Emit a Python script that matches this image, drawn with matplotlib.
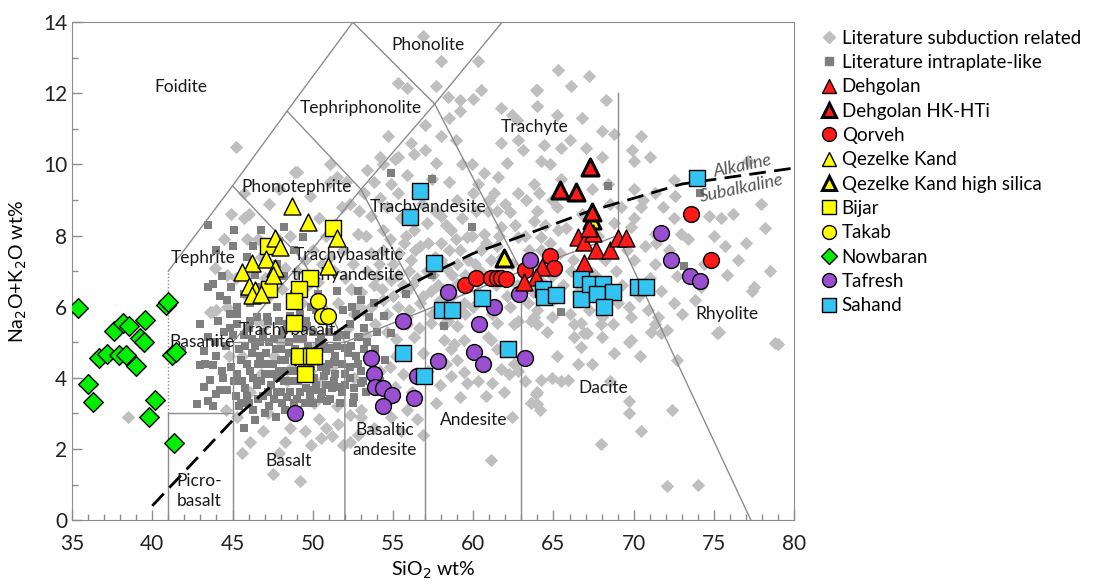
import matplotlib

matplotlib.use("Agg")
import matplotlib.pyplot as plt  # noqa: E402
import numpy as np  # noqa: E402
from matplotlib.lines import Line2D  # noqa: E402
from matplotlib.ticker import MultipleLocator  # noqa: E402

plt.rcParams["font.family"] = ["Lato", "DejaVu Sans"]

# ---- literature data (SiO2, Na2O+K2O) ----
lit_sub = [
    (56.9, 13.6), (58.0, 12.9), (60.3, 12.9), (65.3, 12.65), (67.2, 12.5), (66.1, 12.2),
    (63.9, 12.1), (57.7, 12.2), (58.4, 11.9), (59.2, 11.8), (60.0, 11.85), (60.5, 12.1),
    (59.2, 11.5), (61.7, 11.6), (62.4, 11.4), (62.7, 11.25), (64.0, 11.65), (68.3, 11.8),
    (68.0, 10.95), (68.8, 10.85), (70.45, 10.8), (69.9, 10.4), (71.0, 10.2), (70.0, 10.1),
    (58.0, 10.8), (58.9, 10.7), (56.1, 10.6), (61.7, 10.6), (64.4, 10.55), (65.5, 10.45),
    (67.0, 10.45), (68.0, 10.2), (64.2, 10.1), (64.8, 10.0), (60.7, 9.75), (62.1, 10.05),
    (55.3, 12.3), (55.9, 12.15), (64.0, 12.1), (54.7, 10.8), (45.2, 10.5), (54.2, 10.2),
    (55.1, 10.15), (57.7, 10.05), (59.95, 10.0), (62.8, 10.7), (51.1, 10.0), (49.0, 9.8),
    (59.3, 10.0), (77.1, 10.1), (72.5, 9.55), (71.3, 9.2), (70.0, 9.3), (69.2, 8.8),
    (70.45, 8.8), (74.7, 8.55), (75.45, 8.5), (77.95, 8.9), (78.2, 8.2), (75.7, 7.7),
    (76.5, 7.3), (77.5, 6.55), (75.2, 5.25), (78.8, 4.97), (60.3, 9.45), (61.3, 9.2),
    (59.0, 9.0), (58.0, 8.55), (60.9, 8.7), (62.3, 8.65), (63.8, 8.4), (64.0, 8.7),
    (64.9, 9.0), (63.8, 9.45), (61.55, 9.65), (68.4, 9.45), (68.8, 8.35), (69.8, 8.25),
    (71.3, 8.05), (72.5, 8.5), (72.95, 8.05), (70.7, 7.7), (71.3, 7.2), (70.0, 7.3),
    (72.7, 6.85), (71.7, 6.45), (72.5, 6.1), (74.2, 6.55), (77.4, 6.45), (71.5, 5.7),
    (72.1, 5.35), (69.8, 5.7), (69.0, 6.1), (68.0, 5.7), (66.7, 5.55), (64.9, 5.7),
    (64.0, 5.5), (66.3, 5.15), (66.9, 5.25), (68.0, 5.15), (69.8, 5.05), (68.8, 4.7),
    (66.7, 4.87), (66.5, 4.4), (64.9, 4.0), (64.25, 3.95), (63.9, 3.55), (63.6, 3.3),
    (64.15, 3.1), (56.3, 8.15), (57.1, 8.35), (58.6, 8.15), (59.6, 7.95), (60.7, 8.05),
    (61.7, 8.25), (62.8, 7.95), (64.2, 7.95), (65.3, 8.15), (56.7, 7.7), (58.0, 7.8),
    (59.2, 7.6), (60.5, 7.6), (61.5, 7.7), (64.2, 7.6), (56.1, 7.3), (59.0, 7.2),
    (60.1, 7.2), (61.1, 7.3), (64.7, 7.3), (64.9, 6.85), (59.0, 6.65), (57.35, 6.45),
    (56.7, 6.1), (59.4, 6.1), (62.3, 6.0), (63.4, 6.1), (64.0, 5.9), (55.9, 5.7),
    (57.35, 5.55), (59.0, 5.45), (61.5, 5.55), (62.55, 5.5), (63.6, 5.6), (58.8, 4.95),
    (61.1, 5.05), (61.5, 4.8), (62.55, 4.4), (58.6, 4.05), (59.6, 3.85), (61.2, 3.85),
    (59.2, 3.45), (57.65, 3.3), (59.0, 4.5), (59.4, 4.15), (61.7, 4.25), (62.2, 4.1),
    (61.1, 1.7), (64.0, 3.6), (64.0, 3.25), (65.45, 3.9), (65.9, 3.95), (67.95, 2.15),
    (69.7, 3.35), (69.7, 3.0), (70.45, 2.5), (69.7, 5.0), (72.1, 0.96), (72.7, 4.5),
    (75.3, 5.3), (79.0, 4.95), (67.1, 5.25), (67.95, 5.5), (71.1, 5.3), (71.7, 5.25),
    (71.3, 5.5), (70.9, 5.9), (69.7, 6.0), (66.3, 5.5), (63.8, 5.7), (58.4, 5.6),
    (59.5, 5.8), (58.6, 4.8), (62.8, 4.2), (51.9, 2.1), (51.2, 2.35), (52.35, 2.2),
    (56.9, 2.4), (56.5, 2.85), (54.85, 2.9), (53.0, 2.9), (52.35, 2.95), (51.5, 3.2),
    (50.1, 3.3), (50.4, 2.85), (50.8, 2.6), (49.2, 1.1), (58.2, 5.05), (56.3, 5.15),
    (56.9, 4.7), (58.2, 5.5), (55.9, 5.5), (59.4, 5.05), (60.9, 5.15), (55.1, 3.75),
    (55.9, 3.1), (53.0, 3.1), (48.9, 9.8), (51.1, 9.5), (43.6, 5.85), (53.2, 9.2),
    (54.2, 9.05), (54.85, 9.45), (51.5, 9.65), (52.35, 8.9), (53.6, 8.55), (54.4, 8.15),
    (52.8, 8.05), (51.9, 7.6), (51.1, 7.4), (53.6, 7.5), (54.4, 7.6), (54.0, 6.85),
    (54.85, 6.75), (52.8, 6.0), (45.7, 9.2), (45.7, 8.5), (44.65, 6.0), (44.0, 5.9),
    (54.4, 6.2), (55.3, 6.0), (55.7, 7.8), (55.5, 8.5), (53.4, 9.85), (54.4, 10.0),
    (55.3, 10.2), (46.5, 5.6), (47.3, 6.3), (48.0, 5.0), (48.7, 4.3), (49.5, 5.4),
    (50.2, 4.9), (50.9, 5.6), (51.6, 6.1), (52.4, 6.5), (53.1, 5.9), (53.8, 6.6),
    (54.6, 5.3), (55.2, 4.6), (55.8, 6.4), (56.5, 6.8), (57.5, 6.9), (58.3, 7.1),
    (57.9, 6.2), (53.5, 4.6), (54.2, 4.2), (52.6, 4.0), (51.2, 4.3), (50.5, 3.9),
    (49.8, 4.2), (48.4, 3.9), (47.6, 4.6), (46.8, 4.1), (46.1, 3.6), (45.6, 4.6),
    (45.3, 2.9), (46.9, 2.5), (48.3, 2.2), (47.5, 1.3), (49.9, 2.1), (44.6, 3.1),
    (43.9, 7.1), (44.5, 7.9), (46.0, 8.6), (47.3, 8.9), (47.9, 9.3), (49.8, 9.1),
    (50.4, 8.5), (49.5, 7.3), (48.3, 7.1), (46.8, 7.4), (45.9, 6.3), (47.1, 5.5),
    (48.9, 5.6), (50.3, 6.7), (51.3, 7.0), (52.5, 7.2), (53.3, 8.0), (55.0, 7.2),
    (56.0, 7.0), (56.8, 8.9), (57.4, 9.6), (58.5, 9.5), (60.0, 9.2), (61.5, 8.7),
    (62.8, 9.2), (63.1, 10.4), (65.5, 9.6), (66.0, 10.7), (66.8, 11.3), (65.2, 11.4),
    (58.5, 11.3), (57.0, 11.1), (44.9, 8.6), (45.9, 7.9), (38.5, 2.9), (44.65, 6.9),
    (43.7, 5.85), (74.0, 1.0), (72.4, 3.1), (67.4, 6.95), (66.2, 7.3), (62.7, 6.6),
    (60.3, 6.4), (58.7, 6.9), (57.6, 7.4), (55.3, 6.9), (53.4, 7.0), (52.0, 6.8),
    # dense band
    (52.2, 5.4), (52.6, 5.8), (53.0, 6.4), (53.3, 5.2), (53.6, 6.0), (53.9, 5.5),
    (54.1, 7.2), (54.3, 6.5), (54.6, 5.8), (54.8, 7.9), (55.0, 6.3), (55.2, 5.1),
    (55.4, 7.5), (55.6, 6.6), (55.8, 8.0), (56.0, 5.9), (56.2, 6.6), (56.4, 7.6),
    (56.6, 5.4), (56.9, 6.3), (57.1, 7.0), (57.2, 7.8), (57.4, 5.8), (57.6, 8.7),
    (57.8, 6.6), (58.0, 7.3), (58.1, 6.0), (58.3, 8.3), (58.5, 7.6), (58.7, 6.3),
    (58.9, 7.9), (59.1, 5.9), (59.3, 8.5), (59.5, 6.9), (59.7, 7.3), (59.9, 8.0),
    (60.0, 6.0), (60.2, 8.7), (60.4, 7.0), (60.6, 6.3), (60.8, 7.8), (61.0, 9.0),
    (61.2, 5.8), (61.4, 6.6), (61.6, 8.0), (61.8, 7.4), (62.0, 8.9), (62.1, 6.3),
    (62.4, 7.2), (62.6, 8.3), (62.8, 5.6), (63.0, 6.6), (63.2, 8.0), (63.3, 9.0),
    (63.5, 7.6), (63.7, 6.4), (63.9, 7.2), (64.1, 9.2), (64.3, 6.7), (64.5, 8.3),
    (64.6, 5.3), (64.8, 7.8), (65.0, 6.2), (65.2, 8.8), (65.4, 7.5), (65.6, 6.6),
    (65.8, 8.2), (66.0, 5.8), (66.1, 7.0), (66.3, 9.1), (66.5, 6.4), (66.8, 8.6),
    (67.0, 7.1), (67.2, 5.9), (67.4, 9.3), (67.6, 6.9), (67.8, 8.0), (68.0, 6.3),
    (68.2, 7.3), (68.5, 8.9), (68.7, 5.5), (68.9, 7.0), (69.3, 6.6), (69.6, 7.6),
    (70.0, 8.5), (70.3, 6.3), (70.6, 9.0), (71.0, 6.8), (71.4, 7.8), (71.8, 8.8),
    (72.2, 7.6), (72.6, 9.1), (73.0, 5.8), (73.4, 7.9), (73.8, 6.2), (74.4, 7.2),
    (75.0, 8.0), (75.8, 6.9), (76.2, 8.6), (77.0, 7.8), (78.5, 7.0),
    (44.8, 4.6), (45.2, 6.8), (46.0, 7.0), (46.6, 7.9), (47.0, 6.8), (47.5, 7.6),
    (48.1, 6.5), (48.6, 8.0), (49.0, 7.0), (49.3, 6.1), (49.7, 6.6), (50.0, 7.6),
    (50.6, 7.2), (50.8, 8.0), (51.4, 8.3), (51.8, 8.8), (52.1, 9.5), (52.9, 8.7),
    (53.8, 9.5), (54.6, 8.8), (55.3, 9.2), (55.9, 9.7), (56.3, 10.3), (57.0, 10.4),
    (47.2, 3.0), (48.6, 2.6), (49.5, 2.5), (50.5, 2.3), (51.6, 2.7), (52.8, 2.4),
    (53.8, 2.6), (54.6, 3.3), (55.5, 2.5), (56.2, 3.6), (54.8, 4.3), (55.6, 4.1),
    (57.2, 4.2), (57.9, 3.8), (58.3, 4.4), (60.3, 3.9), (60.8, 3.5), (61.9, 3.6),
    (62.4, 2.9), (63.2, 3.9), (65.2, 4.6), (67.4, 4.4), (68.5, 3.9), (70.4, 4.6),
    (46.1, 2.2), (45.6, 1.9), (47.9, 1.9),
]

lit_intra = [
    (45.4, 3.2), (45.6, 3.9), (45.5, 4.5), (45.8, 4.9), (45.9, 3.5), (46.1, 4.2),
    (46.2, 4.7), (46.3, 3.1), (46.5, 3.8), (46.6, 4.4), (46.7, 5.0), (46.9, 3.5),
    (47.0, 4.1), (47.1, 4.7), (47.3, 3.2), (47.4, 3.8), (47.5, 4.4), (47.6, 5.1),
    (47.8, 3.6), (47.9, 4.2), (48.0, 4.8), (48.1, 3.3), (48.2, 3.9), (48.3, 4.5),
    (48.5, 5.0), (48.6, 3.6), (48.7, 4.2), (48.9, 4.8), (49.0, 3.4), (49.1, 3.9),
    (49.3, 4.4), (49.4, 5.1), (49.6, 3.7), (49.8, 4.6), (50.0, 3.3), (50.1, 4.0),
    (50.3, 4.5), (50.4, 5.0), (50.6, 3.6), (50.8, 4.2), (50.9, 4.8), (51.1, 3.4),
    (51.3, 3.9), (51.4, 4.6), (51.6, 5.2), (51.8, 3.6), (52.0, 4.1), (52.2, 4.7),
    (52.5, 3.3), (52.8, 4.4), (53.1, 3.9), (53.4, 5.0), (53.7, 4.5), (54.0, 5.3),
    (46.0, 5.4), (47.2, 5.6), (48.4, 5.5), (49.2, 5.8), (50.6, 5.6), (45.3, 5.8),
    (46.4, 2.8), (47.7, 2.9), (48.9, 2.9), (45.7, 2.6), (43.5, 8.3), (45.1, 8.15),
    (45.0, 7.7), (44.0, 7.6), (44.35, 6.85), (43.5, 6.55), (44.25, 6.3), (44.9, 6.55),
    (43.0, 5.5), (43.5, 5.15), (43.2, 4.75), (44.0, 4.6), (43.3, 4.4), (44.35, 4.2),
    (43.6, 3.95), (44.65, 3.65), (44.0, 3.55), (46.3, 7.7), (45.9, 7.4), (46.75, 8.15),
    (47.9, 7.85), (48.2, 8.25), (48.8, 7.6), (49.4, 7.95), (47.8, 7.2), (48.2, 6.85),
    (46.75, 6.55), (45.7, 6.35), (45.3, 6.0), (46.1, 6.1), (47.8, 6.0), (48.6, 5.75),
    (47.15, 5.7), (46.1, 5.6), (45.3, 5.5), (48.2, 5.35), (46.9, 5.15), (49.9, 6.0),
    (49.65, 5.45), (50.5, 5.15), (51.5, 5.15), (51.1, 4.85), (52.35, 5.5), (52.8, 5.15),
    (53.2, 4.8), (51.9, 5.9), (50.3, 6.35), (51.5, 6.45), (52.8, 6.45), (48.8, 6.35),
    (43.8, 6.65), (44.65, 6.2), (44.86, 5.8), (44.1, 5.6), (44.86, 5.4), (43.0, 4.35),
    (43.8, 4.35), (43.2, 3.75), (44.25, 3.65), (42.8, 3.25), (43.5, 3.35), (43.8, 3.2),
    (41.85, 4.75), (45.5, 3.3), (45.2, 3.5), (52.45, 6.0), (53.5, 5.7), (54.45, 5.75),
    (54.85, 5.25), (52.9, 5.15), (52.0, 4.85), (51.3, 4.45), (52.35, 4.3), (50.7, 4.05),
    (51.7, 3.75), (53.0, 3.85), (52.55, 3.45), (50.9, 3.35), (50.1, 3.65), (48.4, 3.45),
    (54.9, 9.75), (57.45, 9.6), (59.95, 8.25), (68.4, 9.4), (73.15, 7.15), (65.5, 5.85),
    (58.2, 5.45), (55.8, 6.35), (74.1, 9.2), (57.45, 6.9), (53.0, 6.2), (46.4, 6.9),
    # dense basaltic cluster
    (45.3, 4.1), (45.4, 4.8), (45.7, 5.2), (45.8, 3.7), (45.9, 4.4), (46.0, 3.3),
    (46.2, 5.1), (46.3, 4.0), (46.4, 4.9), (46.6, 3.4), (46.7, 4.6), (46.8, 3.9),
    (46.9, 5.3), (47.0, 3.0), (47.1, 4.4), (47.2, 3.6), (47.3, 5.0), (47.4, 4.1),
    (47.6, 3.4), (47.7, 4.8), (47.8, 4.0), (48.0, 3.6), (48.0, 4.5), (48.1, 5.2),
    (48.3, 3.1), (48.4, 4.2), (48.5, 4.7), (48.6, 3.9), (48.8, 3.3), (48.8, 4.5),
    (49.0, 5.1), (49.1, 4.2), (49.2, 3.6), (49.3, 4.7), (49.5, 3.3), (49.5, 4.0),
    (49.7, 4.9), (49.8, 3.5), (49.9, 4.3), (50.0, 5.3), (50.2, 3.8), (50.3, 4.7),
    (50.5, 3.4), (50.5, 4.3), (50.7, 4.9), (50.8, 3.8), (51.0, 4.4), (51.0, 5.3),
    (51.2, 3.7), (51.4, 4.1), (51.5, 4.9), (51.7, 3.3), (51.8, 4.4), (52.0, 3.8),
    (52.1, 5.2), (52.3, 4.0), (52.4, 4.9), (52.6, 3.7), (52.7, 4.6), (53.0, 4.2),
    (53.2, 5.4), (53.3, 3.6), (53.6, 4.1), (53.9, 4.8), (54.2, 3.9), (54.5, 4.5),
    (46.5, 5.7), (47.9, 5.6), (49.6, 5.6), (50.2, 5.9), (51.2, 5.7), (52.7, 5.8),
    (53.8, 6.1), (44.9, 4.3), (44.6, 4.9), (45.0, 5.2), (44.5, 5.3), (43.9, 5.0),
    (44.4, 4.0), (45.1, 3.9),
]

# ---- this study ----
dehgolan = [(66.5, 7.95), (66.9, 7.83), (67.45, 8.06), (67.65, 7.59), (68.5, 7.59),
            (69.0, 7.92), (69.5, 7.92), (66.9, 7.22), (64.3, 7.12), (63.9, 6.84),
            (63.15, 6.7), (67.2, 8.2)]
dehgolan_hk = [(67.3, 9.93), (65.4, 9.28), (66.4, 9.23), (67.4, 8.65)]
qorveh = [(59.5, 6.61), (60.15, 6.8), (61.1, 6.82), (61.45, 6.8), (61.75, 6.8),
          (62.05, 6.77), (63.2, 7.03), (64.8, 7.42), (65.05, 7.1), (73.6, 8.6), (74.8, 7.31)]
qezelke = [(48.7, 8.83), (49.7, 8.39), (51.5, 7.92), (47.65, 7.92), (47.95, 7.68),
           (46.2, 7.22), (47.1, 7.33), (47.65, 7.08), (45.6, 6.98), (47.55, 6.9),
           (46.0, 6.58), (46.4, 6.47), (46.2, 6.33), (46.75, 6.37), (50.95, 7.14)]
qezelke_hs = [(67.4, 8.43), (61.9, 7.38)]
bijar = [(51.25, 8.21), (47.2, 7.7), (49.8, 6.8), (49.13, 6.5), (47.25, 6.51),
         (48.8, 6.17), (48.85, 5.54), (49.13, 4.6), (49.86, 4.62), (50.07, 4.62),
         (49.5, 4.1)]
takab = [(50.33, 6.17), (50.58, 5.74), (50.97, 5.74)]
nowbaran = [(35.4, 5.97), (36.0, 3.82), (36.33, 3.33), (36.7, 4.57), (37.2, 4.67),
            (37.64, 5.32), (37.95, 4.64), (38.2, 5.53), (38.56, 5.45), (38.35, 4.64),
            (38.97, 4.34), (39.24, 5.13), (39.51, 5.01), (39.56, 5.62), (39.77, 2.89),
            (40.18, 3.39), (40.85, 6.06), (41.01, 6.12), (41.22, 4.64), (41.47, 4.73),
            (41.33, 2.18)]
tafresh = [(48.9, 3.02), (53.65, 4.55), (53.8, 4.12), (53.9, 3.73), (54.35, 3.7),
           (54.95, 3.51), (54.4, 3.2), (55.6, 5.6), (56.3, 3.42), (56.5, 4.05),
           (57.8, 4.48), (58.4, 6.42), (60.05, 4.73), (60.35, 5.5), (60.6, 4.4),
           (61.3, 6.0), (62.85, 6.37), (63.2, 4.57), (63.55, 7.31), (71.7, 8.08),
           (72.3, 7.31), (73.5, 6.86), (74.1, 6.72)]
sahand = [(56.66, 9.25), (56.06, 8.53), (57.55, 7.23), (58.08, 5.92), (58.7, 5.9),
          (60.57, 6.25), (62.14, 4.81), (56.93, 4.05), (55.64, 4.71), (64.32, 6.51),
          (64.42, 6.28), (65.15, 6.34), (66.71, 6.79), (66.71, 6.23), (67.29, 6.65),
          (68.06, 6.65), (67.7, 6.37), (68.73, 6.4), (68.17, 6.0), (70.25, 6.56),
          (70.77, 6.56), (73.95, 9.63)]

# TAS field boundaries (Le Bas et al. 1986) and alkaline/subalkaline divide
fields = [
    [(41, 0), (41, 3), (45, 3)],
    [(45, 0), (45, 5), (52, 5)],
    [(52, 0), (52, 5), (57, 5.9), (63, 7), (69, 8), (77.3, 0)],
    [(57, 0), (57, 5.9)],
    [(63, 0), (63, 7)],
    [(45, 5), (49.4, 7.3), (52, 5)],
    [(41, 7), (45, 9.4), (48.4, 11.5), (52.5, 14)],
    [(45, 9.4), (49.4, 7.3), (53, 9.3), (57, 5.9)],
    [(48.4, 11.5), (53, 9.3), (57.6, 11.7), (63, 7)],
    [(52.5, 14), (57.6, 11.7), (61.8, 14)],
    [(69, 8), (69, 12)],
]
alk_x = [40, 45, 50, 53.7, 55.5, 60, 62.5, 67, 73, 80]
alk_y = [0.4, 2.8, 4.8, 6.0, 6.5, 7.5, 7.9, 8.65, 9.45, 9.9]

labels = [
    ("Foidite", 41.8, 12.17), ("Phonolite", 57.2, 13.35), ("Tephriphonolite", 53.0, 11.6),
    ("Trachyte", 63.8, 11.05), ("Phonotephrite", 49.0, 9.36), ("Trachyandesite", 57.2, 8.8),
    ("Tephrite", 43.2, 7.37), ("Trachybasaltic\ntrachyandesite", 52.2, 7.17),
    ("Trachybasalt", 48.4, 5.34), ("Basanite", 43.1, 5.0), ("Basalt", 48.5, 1.66),
    ("Basaltic\nandesite", 54.5, 2.25), ("Andesite", 60.0, 2.81), ("Dacite", 68.1, 3.71),
    ("Rhyolite", 75.8, 5.8), ("Picro-\nbasalt", 42.9, 0.82),
]

LIGHT, DARK = "#bfbfbf", "#7f7f7f"
RED, YEL, GRN, PUR, CYN = "#ff1a1a", "#ffff00", "#00ee00", "#9a4fd0", "#33c4f2"
LINE = "#8c8c8c"

fig = plt.figure(figsize=(11.17, 5.85), dpi=100)
ax = fig.add_axes([0.0645, 0.111, 0.6465, 0.851])

for seg in fields:
    xs, ys = zip(*seg)
    ax.plot(xs, ys, color=LINE, lw=1.0, zorder=2)
ax.plot([41, 41], [3, 7], color=LINE, lw=1.0, ls=(0, (1, 1.5)), zorder=2)
ax.plot(alk_x, alk_y, color="black", lw=2, ls=(0, (6, 3)), zorder=3)

ls_ = np.array(lit_sub)
li_ = np.array(lit_intra)
ax.scatter(ls_[:, 0], ls_[:, 1], marker="D", s=46, c=LIGHT, lw=0, zorder=1)
ax.scatter(li_[:, 0], li_[:, 1], marker="s", s=40, c=DARK, lw=0, zorder=1.5)

for txt, x, y in labels:
    ax.text(x, y, txt, ha="center", va="center", fontsize=12.5, color="#1a1a1a",
            linespacing=1.35, zorder=4)
ax.text(76.8, 9.95, "Alkaline", style="italic", fontsize=13, color="#555555",
        rotation=12, ha="center", va="center", zorder=4)
ax.text(76.7, 9.33, "Subalkaline", style="italic", fontsize=13, color="#555555",
        rotation=12, ha="center", va="center", zorder=4)

series = [
    (dehgolan, "^", RED, 1.0, 150, "Dehgolan"),
    (dehgolan_hk, "^", RED, 2.2, 150, "Dehgolan HK-HTi"),
    (qorveh, "o", RED, 1.0, 130, "Qorveh"),
    (qezelke, "^", YEL, 1.0, 150, "Qezelke Kand"),
    (qezelke_hs, "^", YEL, 2.2, 150, "Qezelke Kand high silica"),
    (bijar, "s", YEL, 1.0, 130, "Bijar"),
    (takab, "o", YEL, 1.0, 130, "Takab"),
    (nowbaran, "D", GRN, 1.0, 100, "Nowbaran"),
    (tafresh, "o", PUR, 1.0, 130, "Tafresh"),
    (sahand, "s", CYN, 1.0, 130, "Sahand"),
]
order = [6, 8, 0, 5, 2, 3, 4, 7, 1, 9]
for i, (pts, mk, col, lw, s, name) in enumerate(series):
    a = np.array(pts)
    ax.scatter(a[:, 0], a[:, 1], marker=mk, s=s, c=col, edgecolors="black",
               linewidths=lw, zorder=5 + order[i] * 0.1)

ax.set_xlim(35, 80)
ax.set_ylim(0, 14)
ax.xaxis.set_major_locator(MultipleLocator(5))
ax.xaxis.set_minor_locator(MultipleLocator(1))
ax.yaxis.set_major_locator(MultipleLocator(2))
ax.yaxis.set_minor_locator(MultipleLocator(1))
ax.tick_params(which="both", direction="in", color=LINE, labelsize=15, labelcolor="#222222")
ax.tick_params(which="major", length=7, width=1)
ax.tick_params(which="minor", length=4, width=1)
ax.tick_params(axis="x", pad=10)
for sp in ax.spines.values():
    sp.set_color(LINE)
ax.set_xlabel("SiO$_2$ wt%", fontsize=14, labelpad=4)
ax.set_ylabel("Na$_2$O+K$_2$O wt%", fontsize=14, labelpad=10)

handles = [
    Line2D([], [], ls="", marker="D", ms=6, mfc=LIGHT, mec=LIGHT, label="Literature subduction related"),
    Line2D([], [], ls="", marker="s", ms=6, mfc=DARK, mec=DARK, label="Literature intraplate-like"),
]
for pts, mk, col, lw, s, name in series:
    handles.append(Line2D([], [], ls="", marker=mk, ms=10 if mk != "D" else 8, mfc=col,
                          mec="black", mew=lw, label=name))
fig.legend(handles=handles, loc="upper left", bbox_to_anchor=(0.725, 0.962),
           frameon=False, fontsize=13.5, handletextpad=0.1, labelspacing=0.39,
           handlelength=1.2, borderaxespad=0)

fig.savefig("out.png", dpi=100)
